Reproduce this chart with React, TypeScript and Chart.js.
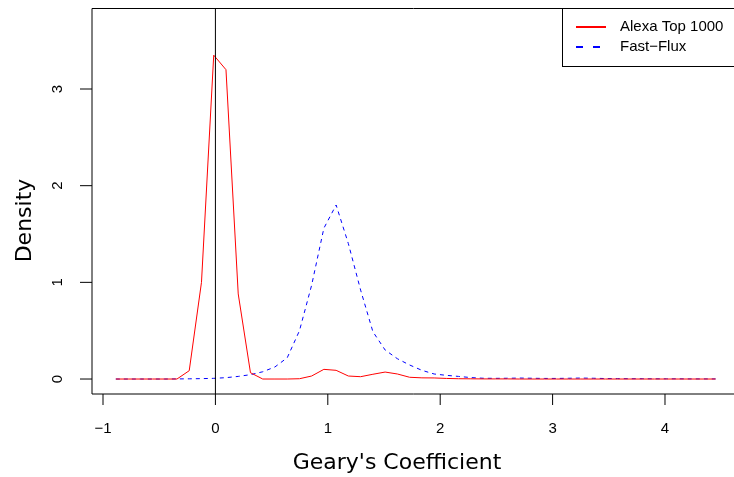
import React, { useEffect, useRef } from "react";
import { Chart, registerables } from "chart.js";
Chart.register(...registerables);

// Density evaluation grid (Geary's coefficient)
const xGrid = [
  -0.886, -0.777, -0.668, -0.559, -0.45, -0.342, -0.233, -0.124, -0.015, 0.094,
  0.203, 0.312, 0.421, 0.53, 0.639, 0.748, 0.856, 0.965, 1.074, 1.183,
  1.292, 1.401, 1.51, 1.619, 1.728, 1.837, 1.946, 2.055, 2.163, 2.272,
  2.381, 2.49, 2.599, 2.708, 2.817, 2.926, 3.035, 3.144, 3.252, 3.361,
  3.47, 3.579, 3.688, 3.797, 3.906, 4.015, 4.124, 4.233, 4.341, 4.45,
];

const alexaDensity = [
  0, 0, 0, 0, 0, 0, 0.086, 1.0, 3.35, 3.2,
  0.88, 0.065, 0, 0, 0, 0.003, 0.031, 0.1, 0.09, 0.031,
  0.024, 0.049, 0.072, 0.052, 0.018, 0.012, 0.011, 0.006, 0.003, 0.002,
  0.001, 0.001, 0.001, 0, 0, 0, 0, 0, 0, 0,
  0, 0, 0, 0, 0, 0, 0, 0, 0, 0,
];

const fastFluxDensity = [
  0, 0, 0, 0, 0, 0.001, 0.002, 0.004, 0.007, 0.014,
  0.027, 0.045, 0.075, 0.125, 0.22, 0.5, 0.97, 1.56, 1.8, 1.4,
  0.92, 0.49, 0.3, 0.21, 0.145, 0.09, 0.052, 0.038, 0.027, 0.015,
  0.008, 0.007, 0.008, 0.01, 0.008, 0.006, 0.006, 0.008, 0.01, 0.008,
  0.005, 0.004, 0.003, 0.003, 0.002, 0.002, 0.002, 0.001, 0.001, 0.001,
];

const seriesNames = ["Alexa Top 1000", "Fast\u2212Flux"];
const xTicks = [-1, 0, 1, 2, 3, 4];
const xTickLabels = ["\u22121", "0", "1", "2", "3", "4"];
const yTicks = [0, 1, 2, 3];
const yTickLabels = ["0", "1", "2", "3"];
const xTitle = "Geary's Coefficient";
const yTitle = "Density";
const refLineX = 0;

const TICK_FONT = "15px 'Liberation Sans', Arial, Helvetica, sans-serif";
const TITLE_FONT = "22px 'DejaVu Sans', sans-serif";
const legendDashes = [[], [7, 10]];

const rAxesPlugin = {
  id: "rAxes",
  afterDatasetsDraw(chart: any) {
    const { ctx, chartArea: a, scales } = chart;
    const sx = scales.x;
    const sy = scales.y;
    ctx.save();
    ctx.strokeStyle = "#000";
    ctx.lineWidth = 1;
    ctx.setLineDash([]);

    // abline(v = 0)
    const x0 = sx.getPixelForValue(refLineX);
    ctx.beginPath();
    ctx.moveTo(x0, a.top);
    ctx.lineTo(x0, a.bottom);
    ctx.stroke();

    // box (open on the right, cropped)
    ctx.beginPath();
    ctx.moveTo(a.right + 5, a.top + 0.5);
    ctx.lineTo(a.left, a.top + 0.5);
    ctx.lineTo(a.left, a.bottom);
    ctx.lineTo(a.right + 5, a.bottom);
    ctx.stroke();

    // x ticks
    ctx.fillStyle = "#000";
    ctx.font = TICK_FONT;
    ctx.textAlign = "center";
    ctx.textBaseline = "middle";
    xTicks.forEach((v, i) => {
      const px = sx.getPixelForValue(v);
      ctx.beginPath();
      ctx.moveTo(px, a.bottom);
      ctx.lineTo(px, a.bottom + 11);
      ctx.stroke();
      ctx.fillText(xTickLabels[i], px, 429);
    });

    // y ticks (labels rotated, R style)
    yTicks.forEach((v, i) => {
      const py = sy.getPixelForValue(v);
      ctx.beginPath();
      ctx.moveTo(a.left, py);
      ctx.lineTo(a.left - 12, py);
      ctx.stroke();
      ctx.save();
      ctx.translate(58, py);
      ctx.rotate(-Math.PI / 2);
      ctx.fillText(yTickLabels[i], 0, 0);
      ctx.restore();
    });

    // axis titles
    ctx.font = TITLE_FONT;
    ctx.textBaseline = "alphabetic";
    ctx.textAlign = "center";
    ctx.fillText(xTitle, 397, 469);
    ctx.save();
    ctx.translate(31, 220.5);
    ctx.rotate(-Math.PI / 2);
    ctx.fillText(yTitle, 0, 0);
    ctx.restore();

    // legend
    const lx = 562.5;
    const ly = 8.5;
    ctx.fillStyle = "#fff";
    ctx.fillRect(lx, ly, 200, 58);
    ctx.strokeStyle = "#000";
    ctx.lineWidth = 1;
    ctx.strokeRect(lx, ly, 200, 58);
    const rows = [27, 47];
    chart.data.datasets.forEach((ds: any, i: number) => {
      const y = rows[i];
      ctx.strokeStyle = ds.borderColor;
      ctx.lineWidth = 2;
      ctx.setLineDash(legendDashes[i]);
      ctx.beginPath();
      ctx.moveTo(576, y);
      ctx.lineTo(606, y);
      ctx.stroke();
      ctx.setLineDash([]);
      ctx.fillStyle = "#000";
      ctx.font = TICK_FONT;
      ctx.textAlign = "left";
      ctx.textBaseline = "middle";
      ctx.fillText(ds.label, 620, y);
    });
    ctx.restore();
  },
};

export default function App() {
  const canvasRef = useRef<HTMLCanvasElement | null>(null);

  useEffect(() => {
    const canvas = canvasRef.current;
    if (!canvas) return;
    const chart = new Chart(canvas, {
      type: "line",
      data: {
        datasets: [
          {
            label: seriesNames[0],
            data: xGrid.map((x, i) => ({ x, y: alexaDensity[i] })),
            borderColor: "#ff0000",
            borderWidth: 1,
            pointRadius: 0,
            tension: 0,
            fill: false,
          },
          {
            label: seriesNames[1],
            data: xGrid.map((x, i) => ({ x, y: fastFluxDensity[i] })),
            borderColor: "#0000ff",
            borderWidth: 1,
            borderDash: [4, 4],
            pointRadius: 0,
            tension: 0,
            fill: false,
          },
        ],
      },
      options: {
        animation: false,
        responsive: false,
        devicePixelRatio: 1,
        layout: { padding: { left: 92, top: 8, right: 0, bottom: 83 } },
        plugins: {
          legend: { display: false },
          tooltip: { enabled: false },
        },
        scales: {
          x: { type: "linear", min: -1.098, max: 4.614, display: false },
          y: { type: "linear", min: -0.155, max: 3.838, display: false },
        },
      },
      plugins: [rAxesPlugin],
    });
    return () => chart.destroy();
  }, []);

  return (
    <div style={{ position: "fixed", left: 0, top: 0, width: 734, height: 477, background: "#fff" }}>
      <canvas ref={canvasRef} width={734} height={477} style={{ width: 734, height: 477 }} />
    </div>
  );
}
